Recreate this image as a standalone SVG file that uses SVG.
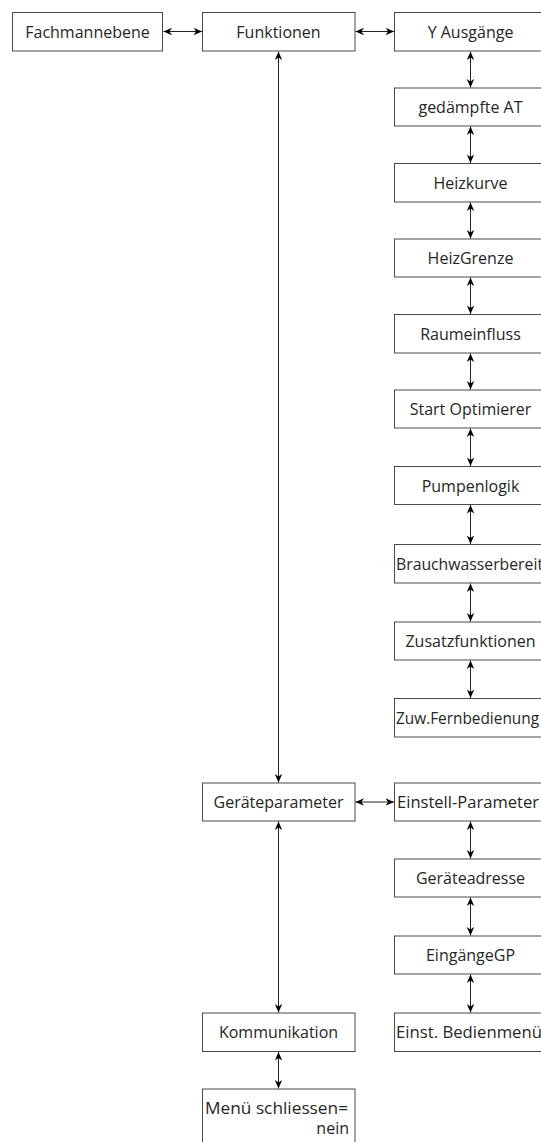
<svg xmlns="http://www.w3.org/2000/svg" width="541" height="1142" viewBox="0 0 541 1142">
<style>
.b{fill:#fff;stroke:#4a4a4a;stroke-width:1}
.t{font-family:"Open Sans","Noto Sans",sans-serif;font-size:16px;fill:#262626;text-anchor:middle}
.s{text-anchor:start}
.e{text-anchor:end}
.c{fill:none;stroke:#222;stroke-width:1}
</style>
<defs>
<marker id="ah" markerUnits="userSpaceOnUse" markerWidth="9" markerHeight="9" refX="8.5" refY="4.5" orient="auto-start-reverse" viewBox="0 0 9 9">
<path d="M0,0.8 L8.5,4.5 L0,8.2 L2.6,4.5 Z" fill="#000"/>
</marker>
</defs>
<rect width="541" height="1142" fill="#fff"/>
<g id="n-fachmannebene"><rect class="b" x="12.5" y="12.5" width="150" height="38.5"/><text class="t" x="87.5" y="37.5">Fachmannebene</text></g>
<g id="n-funktionen"><rect class="b" x="202.5" y="12.5" width="152.5" height="38.5"/><text class="t" x="278.5" y="37.5">Funktionen</text></g>
<g id="n-yausgaenge"><rect class="b" x="394.5" y="12.5" width="152" height="38.5"/><text class="t" x="470.5" y="37.5">Y Ausgänge</text></g>
<g id="n-gedaempfte"><rect class="b" x="394.5" y="88" width="152" height="38"/><text class="t" x="470.5" y="113">gedämpfte AT</text></g>
<g id="n-heizkurve"><rect class="b" x="394.5" y="163.5" width="152" height="38.5"/><text class="t" x="470.5" y="188.5">Heizkurve</text></g>
<g id="n-heizgrenze"><rect class="b" x="394.5" y="239" width="152" height="38"/><text class="t" x="470.5" y="264">HeizGrenze</text></g>
<g id="n-raumeinfluss"><rect class="b" x="394.5" y="314.5" width="152" height="38.5"/><text class="t" x="470.5" y="339.5">Raumeinfluss</text></g>
<g id="n-startopt"><rect class="b" x="394.5" y="390" width="152" height="38"/><text class="t" x="470.5" y="415">Start Optimierer</text></g>
<g id="n-pumpenlogik"><rect class="b" x="394.5" y="466.5" width="152" height="38"/><text class="t" x="470.5" y="491.5">Pumpenlogik</text></g>
<g id="n-brauchwasser"><rect class="b" x="394.5" y="544.5" width="152" height="38.5"/><text class="t s" x="396" y="569.5" textLength="147" lengthAdjust="spacingAndGlyphs">Brauchwasserbereit</text></g>
<g id="n-zusatz"><rect class="b" x="394.5" y="622" width="152" height="38"/><text class="t" x="470.5" y="647">Zusatzfunktionen</text></g>
<g id="n-zuw"><rect class="b" x="394.5" y="698.5" width="152" height="38.5"/><text class="t s" x="396" y="723.5" textLength="143" lengthAdjust="spacingAndGlyphs">Zuw.Fernbedienung</text></g>
<g id="n-geraeteparameter"><rect class="b" x="202.5" y="783" width="152.5" height="38"/><text class="t" x="278.5" y="808">Geräteparameter</text></g>
<g id="n-einstell"><rect class="b" x="394.5" y="783" width="152" height="38"/><text class="t s" x="397" y="808" textLength="142" lengthAdjust="spacingAndGlyphs">Einstell-Parameter</text></g>
<g id="n-geraeteadresse"><rect class="b" x="394.5" y="859" width="152" height="38"/><text class="t" x="470.5" y="884">Geräteadresse</text></g>
<g id="n-eingaengegp"><rect class="b" x="394.5" y="936" width="152" height="38"/><text class="t" x="470.5" y="961">EingängeGP</text></g>
<g id="n-einstbedien"><rect class="b" x="394.5" y="1013" width="152" height="38.5"/><text class="t s" x="396" y="1038" textLength="146" lengthAdjust="spacingAndGlyphs">Einst. Bedienmenü</text></g>
<g id="n-kommunikation"><rect class="b" x="202.5" y="1013" width="152.5" height="38.5"/><text class="t" x="278.5" y="1038">Kommunikation</text></g>
<g id="n-menue"><rect class="b" x="202.5" y="1089" width="152.5" height="70"/><text class="t s" x="205" y="1114" textLength="143" lengthAdjust="spacingAndGlyphs">Menü schliessen=</text><text class="t e" x="349" y="1134">nein</text></g>
<g id="connectors">
<line class="c" x1="163.5" y1="31.5" x2="202" y2="31.5" marker-start="url(#ah)" marker-end="url(#ah)"/>
<line class="c" x1="355.5" y1="31.5" x2="394" y2="31.5" marker-start="url(#ah)" marker-end="url(#ah)"/>
<line class="c" x1="470.5" y1="51.5" x2="470.5" y2="87.5" marker-start="url(#ah)" marker-end="url(#ah)"/>
<line class="c" x1="470.5" y1="126.5" x2="470.5" y2="163" marker-start="url(#ah)" marker-end="url(#ah)"/>
<line class="c" x1="470.5" y1="202.5" x2="470.5" y2="238.5" marker-start="url(#ah)" marker-end="url(#ah)"/>
<line class="c" x1="470.5" y1="277.5" x2="470.5" y2="314" marker-start="url(#ah)" marker-end="url(#ah)"/>
<line class="c" x1="470.5" y1="353.5" x2="470.5" y2="389.5" marker-start="url(#ah)" marker-end="url(#ah)"/>
<line class="c" x1="470.5" y1="428.5" x2="470.5" y2="466" marker-start="url(#ah)" marker-end="url(#ah)"/>
<line class="c" x1="470.5" y1="505" x2="470.5" y2="544" marker-start="url(#ah)" marker-end="url(#ah)"/>
<line class="c" x1="470.5" y1="583.5" x2="470.5" y2="621.5" marker-start="url(#ah)" marker-end="url(#ah)"/>
<line class="c" x1="470.5" y1="660.5" x2="470.5" y2="698" marker-start="url(#ah)" marker-end="url(#ah)"/>
<line class="c" x1="278.5" y1="51.5" x2="278.5" y2="782.5" marker-start="url(#ah)" marker-end="url(#ah)"/>
<line class="c" x1="355.5" y1="802" x2="394" y2="802" marker-start="url(#ah)" marker-end="url(#ah)"/>
<line class="c" x1="470.5" y1="821.5" x2="470.5" y2="858.5" marker-start="url(#ah)" marker-end="url(#ah)"/>
<line class="c" x1="470.5" y1="897.5" x2="470.5" y2="935.5" marker-start="url(#ah)" marker-end="url(#ah)"/>
<line class="c" x1="470.5" y1="974.5" x2="470.5" y2="1012.5" marker-start="url(#ah)" marker-end="url(#ah)"/>
<line class="c" x1="278.5" y1="821.5" x2="278.5" y2="1012.5" marker-start="url(#ah)" marker-end="url(#ah)"/>
<line class="c" x1="278.5" y1="1052" x2="278.5" y2="1088.5" marker-start="url(#ah)" marker-end="url(#ah)"/>
</g>
</svg>
